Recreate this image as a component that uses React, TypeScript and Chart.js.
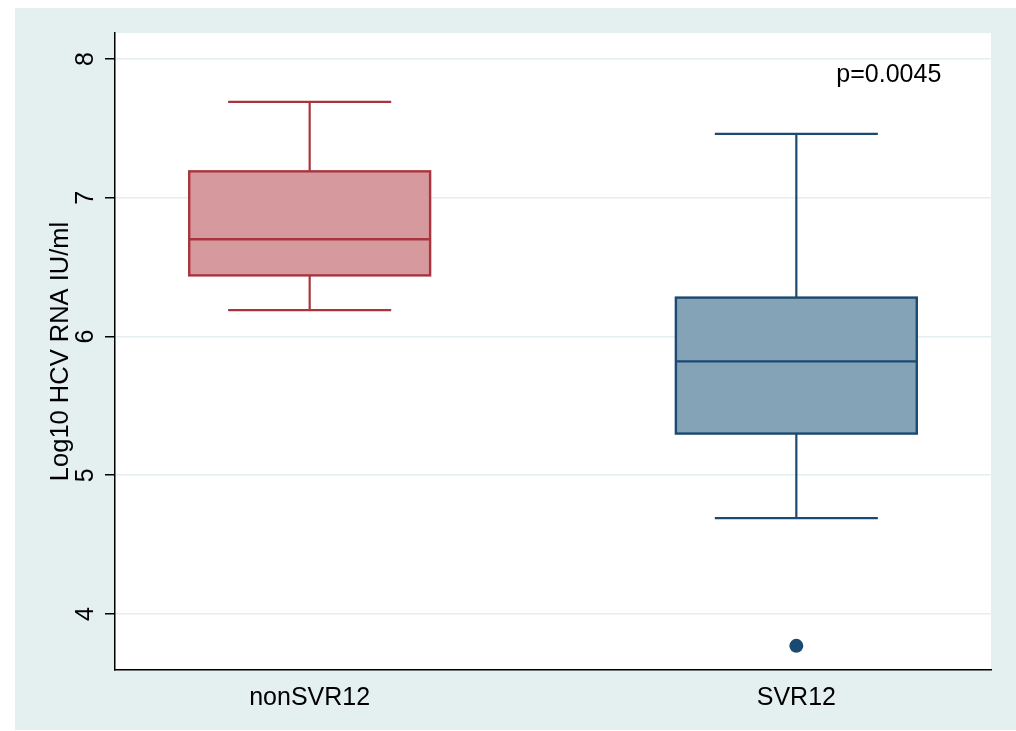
import { useEffect, useRef } from 'react';
import { Chart, registerables } from 'chart.js';

Chart.register(...registerables);

// ---- data ----
const categories = ['nonSVR12', 'SVR12'];
const positions = [1, 2];
const whiskerLow = [6.19, 4.69];
const q1 = [6.44, 5.3];
const median = [6.7, 5.82];
const q3 = [7.19, 6.28];
const whiskerHigh = [7.69, 7.46];
const outlierValues = [[], [3.77]];
const yTicks = [4, 5, 6, 7, 8];
const annotationText = 'p=0.0045';

// ---- style ----
const FONT = '"Liberation Sans", Arial, sans-serif';
const strokeColors = ['#a9343e', '#1a4a72'];
const fillColors = ['#d6999e', '#84a3b7'];
const BG = '#e4eff0';
const GRID = '#e3eef0';
const BOX_HALF = 0.2475;
const CAP_HALF = 0.1675;

const outlierPoints = outlierValues.flatMap((vals, i) => vals.map((v) => ({ x: positions[i], y: v })));

const boxPlugin = {
  id: 'boxes',
  beforeDraw(chart: any) {
    const { ctx, chartArea, width, height } = chart;
    ctx.save();
    ctx.fillStyle = '#ffffff';
    ctx.fillRect(0, 0, width, height);
    ctx.fillStyle = BG;
    ctx.fillRect(15, 8, width - 15, 722);
    ctx.fillStyle = '#ffffff';
    ctx.fillRect(chartArea.left, chartArea.top, chartArea.right - chartArea.left, chartArea.bottom - chartArea.top);
    ctx.restore();
  },
  beforeDatasetsDraw(chart: any) {
    const { ctx } = chart;
    const xs = chart.scales.x;
    const ys = chart.scales.y;
    ctx.save();
    positions.forEach((p, i) => {
      const cx = xs.getPixelForValue(p);
      const bl = xs.getPixelForValue(p - BOX_HALF);
      const br = xs.getPixelForValue(p + BOX_HALF);
      const cl = xs.getPixelForValue(p - CAP_HALF);
      const cr = xs.getPixelForValue(p + CAP_HALF);
      const yLo = ys.getPixelForValue(whiskerLow[i]);
      const yQ1 = ys.getPixelForValue(q1[i]);
      const yMed = ys.getPixelForValue(median[i]);
      const yQ3 = ys.getPixelForValue(q3[i]);
      const yHi = ys.getPixelForValue(whiskerHigh[i]);
      ctx.strokeStyle = strokeColors[i];
      ctx.lineWidth = 2.2;
      // whiskers
      ctx.beginPath();
      ctx.moveTo(cx, yQ3);
      ctx.lineTo(cx, yHi);
      ctx.moveTo(cl, yHi);
      ctx.lineTo(cr, yHi);
      ctx.moveTo(cx, yQ1);
      ctx.lineTo(cx, yLo);
      ctx.moveTo(cl, yLo);
      ctx.lineTo(cr, yLo);
      ctx.stroke();
      // box
      ctx.fillStyle = fillColors[i];
      ctx.fillRect(bl, yQ3, br - bl, yQ1 - yQ3);
      ctx.lineWidth = 2.4;
      ctx.strokeRect(bl, yQ3, br - bl, yQ1 - yQ3);
      ctx.beginPath();
      ctx.moveTo(bl, yMed);
      ctx.lineTo(br, yMed);
      ctx.stroke();
    });
    ctx.restore();
  },
  afterDraw(chart: any) {
    const { ctx, chartArea } = chart;
    const xs = chart.scales.x;
    const ys = chart.scales.y;
    ctx.save();
    ctx.fillStyle = '#000000';
    ctx.font = `25px ${FONT}`;
    ctx.textAlign = 'center';
    ctx.textBaseline = 'middle';
    yTicks.forEach((v) => {
      const y = ys.getPixelForValue(v);
      ctx.save();
      ctx.translate(chartArea.left - 29, y);
      ctx.rotate(-Math.PI / 2);
      ctx.fillText(String(v), 0, 0);
      ctx.restore();
    });
    ctx.fillText(annotationText, xs.getPixelForValue(2.19), ys.getPixelForValue(7.88));
    ctx.restore();
  },
};

export default function App() {
  const ref = useRef<HTMLCanvasElement>(null);
  useEffect(() => {
    if (!ref.current) return;
    const chart = new Chart(ref.current, {
      type: 'scatter',
      data: {
        datasets: [
          {
            data: outlierPoints,
            pointRadius: 7,
            pointHoverRadius: 7,
            backgroundColor: strokeColors[1],
            borderWidth: 0,
          },
        ],
      },
      options: {
        animation: false,
        responsive: true,
        maintainAspectRatio: false,
        layout: { padding: { top: 33, right: 25, left: 0, bottom: 0 } },
        plugins: { legend: { display: false }, tooltip: { enabled: false } },
        scales: {
          x: {
            type: 'linear',
            min: 0.6,
            max: 2.4,
            afterBuildTicks: (s: any) => {
              s.ticks = positions.map((v) => ({ value: v }));
            },
            afterFit: (s: any) => {
              s.height = 61;
            },
            ticks: {
              autoSkip: false,
              maxRotation: 0,
              minRotation: 0,
              padding: 13,
              color: '#000',
              font: { family: FONT, size: 25 },
              callback: (v: any) => {
                const idx = positions.indexOf(Number(v));
                return idx >= 0 ? categories[idx] : '';
              },
            },
            grid: { display: false, drawTicks: false },
            border: { color: '#000', width: 1.5 },
          },
          y: {
            type: 'linear',
            min: 3.596,
            max: 8.187,
            afterBuildTicks: (s: any) => {
              s.ticks = yTicks.map((v) => ({ value: v }));
            },
            afterFit: (s: any) => {
              s.width = 115;
            },
            ticks: { display: false },
            grid: { color: GRID, lineWidth: 1.5, drawTicks: true, tickLength: 10, tickColor: '#000', tickWidth: 1.5 },
            border: { color: '#000', width: 1.5 },
            title: {
              display: true,
              text: 'Log10 HCV RNA IU/ml',
              color: '#000',
              font: { family: FONT, size: 25.5 },
              padding: { top: 46, bottom: 0 },
            },
          },
        },
      },
      plugins: [boxPlugin],
    });
    return () => chart.destroy();
  }, []);
  return (
    <div style={{ position: 'absolute', left: 0, top: 0, width: 1016, height: 731 }}>
      <canvas ref={ref} />
    </div>
  );
}
